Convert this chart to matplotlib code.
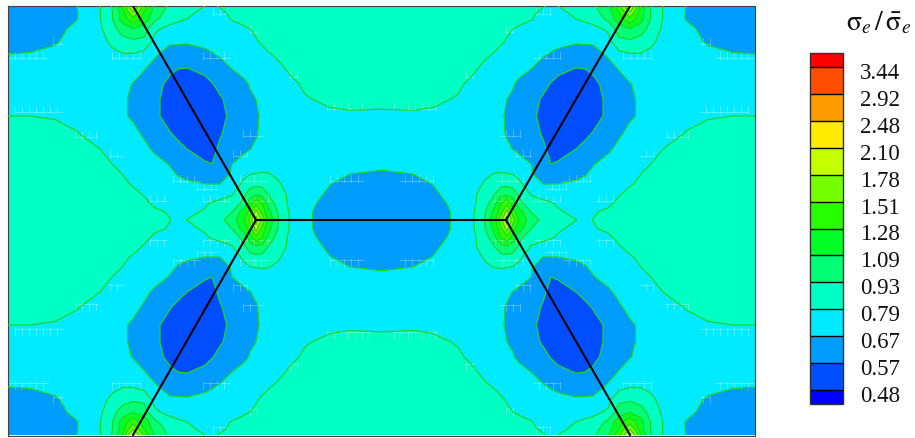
import numpy as np
import matplotlib
matplotlib.use("Agg")
import matplotlib.pyplot as plt
from matplotlib.colors import ListedColormap, BoundaryNorm
from matplotlib.colorbar import ColorbarBase
from matplotlib.transforms import ScaledTranslation

W, H = 915, 439
plt.rcParams['font.family'] = ['Liberation Serif', 'DejaVu Serif']
plt.rcParams['mathtext.fontset'] = 'stix'

levels = [0.48, 0.57, 0.67, 0.79, 0.93, 1.09, 1.28, 1.51, 1.78, 2.10, 2.48, 2.92, 3.44]
tick_labels = ['0.48', '0.57', '0.67', '0.79', '0.93', '1.09', '1.28', '1.51', '1.78', '2.10', '2.48', '2.92', '3.44']
band_colors = ['#0000ff', '#004eff', '#009dff', '#00ebff', '#00ffc4', '#00ff76', '#00ff27',
               '#27ff00', '#76ff00', '#c4ff00', '#ffeb00', '#ff9d00', '#ff4e00', '#ff0000']

# Field sampled over one quadrant of the cell (the pattern repeats mirrored)
xs = [8, 30, 55, 77, 100, 112, 122, 133, 144, 155, 170, 178, 187, 205, 212, 220, 232, 244, 250, 256, 262, 268, 277, 290, 305, 312, 330, 350, 381]
ys = [7, 13, 20, 30, 42, 55, 70, 85, 100, 117, 135, 150, 165, 175, 185, 195, 205, 213, 221]
r07 = [.60,.60,.62,.67,.785,.94,1.25,2.2,1.45,1.05,.90,.87,.84,.79,.77,.80,.82,.83,.84,.84,.84,.85,.85,.85,.85,.85,.85,.85,.85]
r13 = [.60,.60,.62,.665,.785,.92,1.15,1.75,1.28,1.0,.88,.845,.81,.77,.76,.77,.81,.82,.83,.84,.84,.84,.85,.85,.85,.85,.85,.85,.85]
r20 = [.60,.605,.63,.665,.785,.92,1.15,1.42,1.2,.96,.84,.81,.79,.755,.75,.76,.795,.81,.815,.82,.825,.83,.835,.84,.845,.85,.85,.85,.85]
r30 = [.60,.61,.635,.70,.77,.87,1.0,1.08,1.0,.81,.75,.745,.74,.73,.73,.74,.755,.78,.79,.80,.81,.815,.82,.83,.84,.845,.85,.85,.85]
r42 = [.60,.63,.655,.72,.76,.81,.87,.91,.90,.75,.69,.685,.68,.69,.695,.71,.73,.755,.77,.785,.80,.81,.82,.83,.84,.845,.85,.855,.855]
r55 = [.67,.675,.70,.73,.75,.77,.785,.785,.75,.685,.625,.63,.635,.655,.665,.68,.70,.74,.75,.76,.77,.785,.80,.82,.83,.835,.845,.85,.85]
r70 = [.69,.70,.715,.73,.74,.745,.74,.72,.675,.63,.58,.57,.565,.595,.615,.635,.67,.695,.71,.72,.735,.745,.77,.80,.82,.825,.84,.845,.845]
r85 = [.71,.715,.725,.735,.74,.73,.70,.665,.63,.59,.555,.54,.53,.54,.565,.595,.63,.655,.675,.70,.72,.735,.755,.775,.80,.81,.825,.83,.83]
r100 = [.76,.755,.75,.74,.72,.70,.685,.655,.62,.585,.54,.53,.52,.525,.54,.56,.60,.64,.66,.67,.69,.71,.74,.765,.785,.79,.805,.81,.805]
r117 = [.79,.79,.785,.765,.725,.70,.68,.66,.625,.585,.54,.525,.515,.52,.53,.545,.59,.63,.65,.66,.68,.695,.715,.74,.76,.765,.775,.78,.78]
r135 = [.82,.82,.81,.795,.755,.73,.71,.69,.66,.625,.575,.555,.535,.52,.525,.56,.615,.645,.66,.665,.68,.695,.71,.725,.735,.74,.75,.755,.755]
r150 = [.84,.84,.83,.815,.79,.76,.74,.715,.69,.655,.61,.59,.57,.53,.54,.59,.63,.655,.668,.68,.695,.705,.715,.72,.725,.725,.73,.73,.73]
r165 = [.855,.855,.85,.835,.81,.79,.77,.75,.725,.70,.665,.64,.62,.58,.57,.62,.67,.70,.71,.72,.735,.745,.755,.745,.72,.72,.715,.70,.695]
r175 = [.865,.865,.86,.845,.825,.80,.79,.77,.74,.71,.685,.665,.645,.615,.61,.625,.68,.755,.785,.795,.80,.795,.775,.745,.71,.70,.685,.67,.655]
r185 = [.875,.875,.87,.86,.84,.82,.80,.785,.75,.72,.70,.69,.685,.67,.67,.67,.72,.82,.88,.89,.88,.85,.805,.755,.715,.695,.672,.645,.635]
r195 = [.885,.885,.88,.87,.855,.84,.82,.805,.785,.755,.725,.715,.71,.74,.745,.75,.78,.90,1.0,1.05,1.03,.93,.85,.765,.72,.695,.655,.63,.62]
r205 = [.895,.895,.89,.88,.87,.86,.845,.825,.805,.78,.75,.74,.745,.78,.80,.82,.85,.98,1.2,1.45,1.30,1.07,.88,.765,.70,.68,.635,.62,.61]
r213 = [.90,.90,.895,.89,.875,.865,.85,.83,.81,.80,.785,.765,.77,.80,.83,.87,.93,1.18,1.35,1.9,1.4,1.15,.94,.775,.69,.672,.62,.61,.60]
r221 = [.905,.905,.90,.89,.875,.865,.85,.835,.82,.805,.791,.775,.791,.83,.86,.90,.99,1.25,1.6,2.3,1.7,1.26,.95,.78,.69,.672,.615,.60,.60]
rows = [r07, r13, r20, r30, r42, r55, r70, r85, r100, r117, r135, r150, r165, r175, r185, r195, r205, r213, r221]

# Cell walls: start and end of each segment
wall_x = [[133, 256], [256, 133], [256, 506], [506, 630], [506, 630]]
wall_y = [[7, 221], [221, 436], [221, 221], [221, 7], [221, 436]]

# Pale comb-shaped rendering marks seen in one quadrant: left, right, row
comb_x0 = [8, 15, 112, 203, 75, 110, 150, 173, 197, 203, 240, 240, 233, 243, 250, 213, 53, 330, 327, 290]
comb_x1 = [48, 63, 140, 230, 98, 123, 167, 200, 217, 230, 267, 270, 247, 263, 257, 227, 63, 363, 370, 298]
comb_y = [59, 113, 59, 59, 138, 157, 202, 182, 190, 202, 182, 202, 157, 137, 33, 15, 45, 182, 110, 78]

quadrant = np.array(rows)
top = np.hstack([quadrant, quadrant[:, -2::-1]])
field = np.vstack([top, top[-2::-1, :]])
x = np.array(xs + [763 - v for v in xs[-2::-1]], dtype=float)
y = np.array(ys + [443 - v for v in ys[-2::-1]], dtype=float)

fig = plt.figure(figsize=(W / 100, H / 100), dpi=100)
ax = fig.add_axes([8 / W, 1 - 436.5 / H, 747 / W, 429.5 / H])

cmap = ListedColormap(band_colors[1:-1])
cmap.set_under(band_colors[0])
cmap.set_over(band_colors[-1])
norm = BoundaryNorm(levels, cmap.N)

ax.contourf(x, y, field, levels=levels, cmap=cmap, norm=norm, extend='both', antialiased=True)
for x0, x1, yy in zip(comb_x0, comb_x1, comb_y):
    for fx in (lambda v: v, lambda v: 763 - v):
        for fy in (lambda v: v, lambda v: 443 - v):
            ax.plot([fx(x0), fx(x1)], [fy(yy), fy(yy)], color='white', lw=0.6, alpha=0.33, zorder=2)
            for t in np.arange(x0, x1 + 1, 7):
                ax.plot([fx(t), fx(t)], [fy(yy - 6), fy(yy + 1)], color='white', lw=0.6, alpha=0.33, zorder=2)
ax.contour(x, y, field, levels=levels, colors='#22d422', linewidths=0.9, zorder=3)
for sx, sy in zip(wall_x, wall_y):
    ax.plot(sx, sy, color='black', lw=1.5, solid_capstyle='round', zorder=5)

ax.set_xlim(8, 755)
ax.set_ylim(436.5, 7)
ax.set_xticks([])
ax.set_yticks([])
for s in ax.spines.values():
    s.set_linewidth(0.8)
    s.set_color('#404040')

cax = fig.add_axes([810 / W, 1 - 405 / H, 33 / W, 351 / H])
cb = ColorbarBase(cax, cmap=cmap, norm=norm, extend='both', extendrect=True,
                  extendfrac=13.6 / 323.6, drawedges=True, spacing='uniform', ticks=levels)
cb.ax.set_yticklabels(tick_labels)
cb.outline.set_linewidth(1.0)
cb.outline.set_edgecolor('#303030')
cb.dividers.set_linewidth(1.0)
cb.dividers.set_color('black')
cb.ax.tick_params(length=0, pad=12.5, labelsize=16.5, labelcolor='#111111')
shift = ScaledTranslation(0, -3 / 100, fig.dpi_scale_trans)
for lab in cb.ax.get_yticklabels():
    lab.set_transform(lab.get_transform() + shift)

fig.text(879 / W, 1 - 23 / H, r'$\mathrm{\sigma}_e\,/\,\bar{\mathrm{\sigma}}_e$',
         ha='center', va='center', fontsize=20, color='#111111')

fig.savefig('out.png', dpi=100)
